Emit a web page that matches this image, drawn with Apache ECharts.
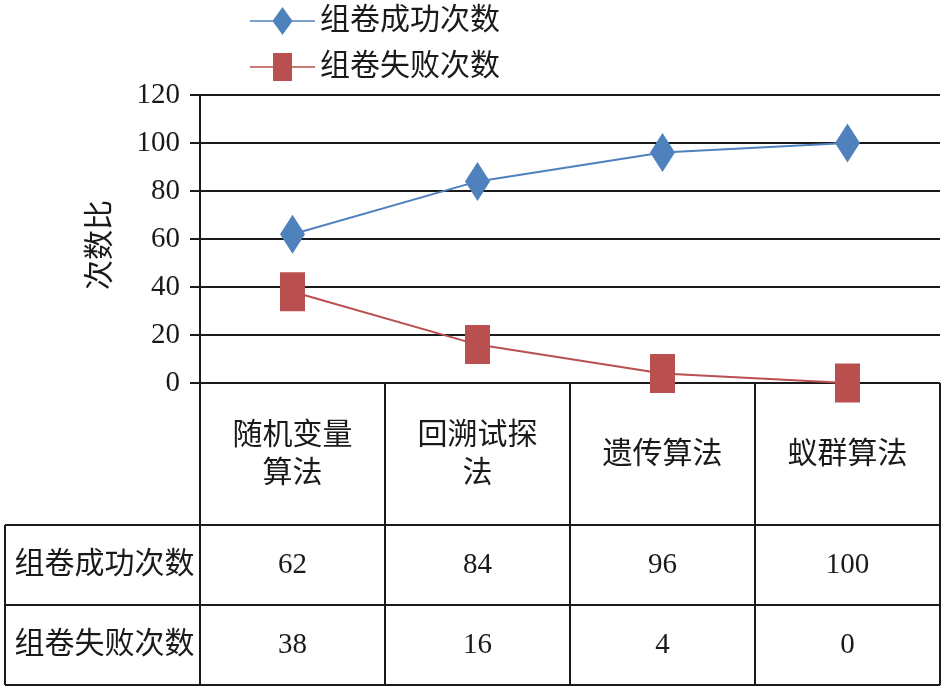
<!DOCTYPE html>
<html lang="zh">
<head>
    <meta charset="UTF-8">
    <title>组卷次数比</title>
    <script src="https://cdn.jsdelivr.net/npm/echarts@6/dist/echarts.min.js"></script>
    <style>
        html,
        body,
        #chart {
            width: 100%;
            height: 100%;
            margin: 0;
            padding: 0;
            background: #fff;
        }
    </style>
</head>
<body>
    <div id="chart"></div>
    <script>
        // 数据
        var categories = ['随机变量算法', '回溯试探法', '遗传算法', '蚁群算法'];
        var successName = '组卷成功次数';
        var failName = '组卷失败次数';
        var successData = [62, 84, 96, 100];
        var failData = [38, 16, 4, 0];
        var yTicks = [0, 20, 40, 60, 80, 100, 120];

        var FONT = '"Liberation Serif", "Noto Sans CJK SC", serif';
        var BLUE = '#4F81BD';
        var RED = '#B9504F';

        // 版面
        var W = 946, H = 688;
        var gridLeft = 200, gridRight = 940, gridTop = 95, gridBottom = 383;
        var row1 = 525, row2 = 605, row3 = 685, tableLeft = 5;

        // 每4个字换行
        function wrap4(s) {
            var out = [];
            for (var i = 0; i < s.length; i += 4) out.push(s.slice(i, i + 4));
            return out.join('\n');
        }

        var chart = echarts.init(document.getElementById('chart'));

        var colW = (gridRight - gridLeft) / categories.length;
        var lineStyle = { stroke: '#1a1a1a', lineWidth: 2 };
        var graphics = [];
        function hline(y, x1, x2) {
            graphics.push({ type: 'line', shape: { x1: x1, y1: y, x2: x2, y2: y }, style: lineStyle });
        }
        function vline(x, y1, y2) {
            graphics.push({ type: 'line', shape: { x1: x, y1: y1, x2: x, y2: y2 }, style: lineStyle });
        }
        for (var i = 0; i <= categories.length; i++) {
            vline(Math.round(gridLeft + i * colW), gridBottom, row3);
        }
        vline(tableLeft, row1, row3);
        hline(row1, tableLeft, gridRight);
        hline(row2, tableLeft, gridRight);
        hline(row3, tableLeft, gridRight);
        [successName, failName].forEach(function (name, k) {
            graphics.push({
                type: 'text',
                x: (tableLeft + gridLeft) / 2 + 2,
                y: k === 0 ? (row1 + row2) / 2 : (row2 + row3) / 2,
                style: {
                    text: name,
                    font: '30px ' + FONT,
                    fill: '#1a1a1a',
                    align: 'center',
                    verticalAlign: 'middle'
                }
            });
        });

        var diamondIcon = 'path://M0,13.2L23,13.2L32.5,0L42,13.2L65,13.2L65,14.8L42,14.8L32.5,28L23,14.8L0,14.8Z';
        var squareIcon = 'path://M0,13.2L23,13.2L23,0L42,0L42,13.2L65,13.2L65,14.8L42,14.8L42,28L23,28L23,14.8L0,14.8Z';

        var rowAxis = function (margin, values) {
            return {
                type: 'category',
                data: categories,
                position: 'bottom',
                axisLine: { show: false },
                axisTick: { show: false },
                axisLabel: {
                    margin: margin,
                    verticalAlign: 'middle',
                    color: '#1a1a1a',
                    fontFamily: FONT,
                    fontSize: 29,
                    formatter: function (v, idx) { return String(values[idx]); }
                }
            };
        };

        chart.setOption({
            animation: false,
            textStyle: { fontFamily: FONT },
            legend: {
                left: 245,
                top: 1,
                orient: 'vertical',
                itemWidth: 65,
                itemHeight: 28,
                itemGap: 16,
                itemStyle: { borderWidth: 0 },
                textStyle: { fontSize: 30, color: '#1a1a1a', fontFamily: FONT },
                data: [
                    { name: successName, icon: diamondIcon },
                    { name: failName, icon: squareIcon }
                ]
            },
            grid: {
                left: gridLeft,
                right: W - gridRight,
                top: gridTop,
                bottom: H - gridBottom,
                containLabel: false
            },
            xAxis: [{
                type: 'category',
                data: categories,
                boundaryGap: true,
                axisLine: { show: false },
                axisTick: { show: false },
                axisLabel: {
                    margin: 72,
                    verticalAlign: 'middle',
                    color: '#1a1a1a',
                    fontFamily: FONT,
                    fontSize: 30,
                    lineHeight: 38,
                    formatter: function (v) { return wrap4(v); }
                }
            }, rowAxis(182, successData), rowAxis(262, failData)],
            yAxis: {
                type: 'value',
                min: yTicks[0],
                max: yTicks[yTicks.length - 1],
                interval: 20,
                name: '次数比',
                nameLocation: 'middle',
                nameGap: 84,
                nameRotate: 90,
                nameTextStyle: { fontSize: 30, color: '#1a1a1a', fontFamily: FONT, padding: [0, 0, 0, -12] },
                axisLine: { show: true, lineStyle: { color: '#1a1a1a', width: 2 } },
                axisTick: { show: true, length: 10, lineStyle: { color: '#1a1a1a', width: 2 } },
                axisLabel: { fontSize: 29, color: '#1a1a1a', fontFamily: FONT, margin: 20 },
                splitLine: { show: true, lineStyle: { color: '#1a1a1a', width: 2 } }
            },
            series: [{
                name: successName,
                type: 'line',
                data: successData,
                symbol: 'diamond',
                symbolSize: [25, 39],
                color: BLUE,
                lineStyle: { color: BLUE, width: 2 },
                itemStyle: { color: BLUE },
                z: 3
            }, {
                name: failName,
                type: 'line',
                data: failData,
                symbol: 'rect',
                symbolSize: [25, 39],
                color: RED,
                lineStyle: { color: RED, width: 2 },
                itemStyle: { color: RED },
                z: 3
            }],
            graphic: graphics
        });
    </script>
</body>
</html>
